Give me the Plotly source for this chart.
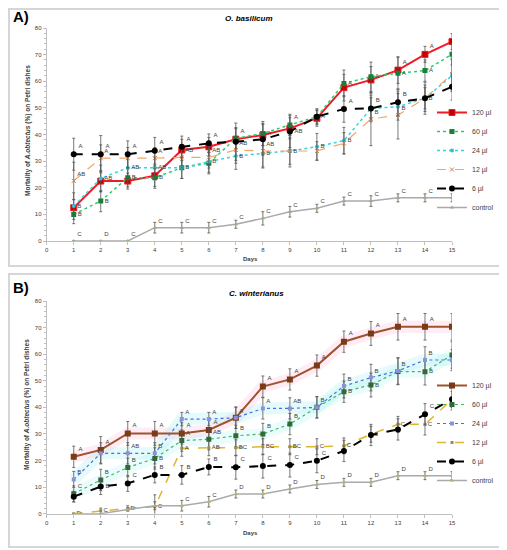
import plotly.graph_objects as go

# the page body keeps its default 8px margin, so the figure is drawn 8px smaller
OFF = 8
W, H = 507 - OFF, 550 - OFF

def fx(x):
    return (x - OFF) / W

def fy(y):
    return 1 - (y - OFF) / H

days = list(range(1, 16))
doses = ['120 µl', '60 µl', '24 µl', '12 µl', '6 µl', 'control']

# A) O. basilicum
a_120 = [12.5, 22.5, 22.5, 24.5, 34.2, 35.4, 38.2, 39.8, 42.3, 46.1, 57.6, 60.5, 64.2, 70.1, 74.9]
a_60 = [10.0, 15.0, 23.8, 23.8, 27.5, 29.2, 38.6, 40.4, 43.6, 46.7, 59.2, 61.7, 63.0, 64.0, 70.1]
a_24 = [13.1, 23.5, 27.5, 27.5, 27.5, 29.8, 31.9, 32.9, 33.8, 35.4, 37.7, 49.8, 50.4, 53.6, 62.1]
a_12 = [22.6, 31.1, 31.1, 31.1, 31.4, 31.4, 34.2, 33.8, 33.8, 33.8, 36.7, 45.8, 47.3, 53.6, 62.7]
a_6 = [32.6, 32.6, 32.6, 33.9, 35.4, 36.7, 37.3, 38.2, 41.1, 46.7, 49.6, 49.8, 52.1, 53.6, 57.9]
a_ctl = [0, 0, 0, 5.0, 5.0, 5.0, 6.3, 8.5, 11.0, 12.3, 15.0, 15.0, 16.2, 16.2, 16.2]

a_120_err = [3, 4, 3, 4, 4, 3.5, 4, 4, 4, 3, 5, 5, 5, 3, 3]
a_60_err = [3.5, 4, 3.5, 4, 4, 4, 4, 4.5, 4, 3, 5, 5.5, 6, 4, 4]
a_24_err = [5, 5, 4, 4, 4, 4, 5, 5.5, 5, 5, 5, 5, 5, 6, 6]
a_12_err = [7, 5, 4, 4, 4, 4, 5, 6, 6, 3.5, 4, 10, 9, 5, 6]
a_6_err = [6, 7, 5, 5, 4, 3.5, 7, 6, 6, 2.5, 5, 4, 5, 4, 5]
a_ctl_err = [0, 0, 0, 2, 2, 2, 1.5, 2.5, 2, 1.5, 1.5, 2, 1.5, 1.5, 1.5]

a_120_lbl = ['', '', '', '', '', '', 'A', '', '', '', '', '', 'A', 'A', 'A']
a_60_lbl = ['B', 'B', 'B', 'B', '', '', '', 'A', 'A', 'A', 'A', 'A', 'A', 'A', 'AB']
a_24_lbl = ['B', 'AB', 'AB', 'AB', 'B', 'B', 'B', 'B', 'B', 'B', 'B', '', '', 'B', 'B']
a_12_lbl = ['AB', 'A', '', 'A', 'AB', 'AB', 'AB', 'AB', '', '', '', 'B', 'B', '', '']
a_6_lbl = ['A', 'A', 'A', 'A', 'A', 'A', '', '', 'AB', '', 'A', 'B', 'B', '', 'B']
a_ctl_lbl = ['C', 'D', 'C', 'C', 'C', 'C', 'C', 'C', 'C', 'C', 'C', 'C', 'C', 'C', 'C']

# B) C. winterianus
b_120 = [21.4, 24.0, 30.2, 30.2, 30.2, 31.5, 36.1, 47.8, 50.5, 55.7, 64.7, 67.8, 70.3, 70.3, 70.3]
b_60 = [7.5, 12.7, 17.4, 20.8, 27.5, 28.0, 29.3, 30.0, 33.7, 40.0, 45.9, 48.4, 53.5, 53.4, 59.7]
b_24 = [12.9, 22.7, 22.7, 22.7, 35.6, 35.6, 36.1, 39.6, 39.6, 40.0, 48.0, 51.2, 53.7, 57.8, 57.8]
b_12 = [0, 1.1, 2.0, 2.6, 24.6, 24.8, 24.8, 25.2, 25.2, 25.2, 25.5, 29.9, 33.6, 33.6, 43.0]
b_6 = [6.4, 10.2, 11.4, 14.6, 14.6, 17.6, 17.5, 17.9, 18.3, 19.9, 23.6, 29.6, 31.7, 37.4, 43.0]
b_ctl = [0, 0, 1.6, 3.0, 3.0, 4.5, 7.4, 7.4, 9.3, 11.0, 11.8, 11.8, 14.3, 14.3, 14.3]

b_120_err = [4, 5, 4.5, 4.5, 4, 4, 4, 4, 4, 4, 4, 4.5, 5, 5, 5]
b_60_err = [3, 4, 3.5, 4, 4, 4, 4, 4, 4, 4, 4, 4.5, 5, 5, 5]
b_24_err = [3, 4, 4, 4, 2.5, 2.5, 4, 4, 4, 4, 4.5, 5, 5, 5, 4]
b_12_err = [0, 1, 1, 4.5, 3, 3, 3, 3, 3, 3, 3, 3, 3, 4, 4]
b_6_err = [2, 3, 3, 3, 3.5, 3, 4.5, 4.5, 4.5, 4.5, 4, 4, 4, 4, 3]
b_ctl_err = [0, 0, 0.5, 1.5, 2, 2, 1.5, 1.5, 1.5, 1.5, 1.5, 1.5, 1.5, 1.5, 1.5]

b_120_lbl = ['A', 'A', 'A', 'A', 'A', 'A', '', 'A', 'A', 'A', 'A', 'A', 'A', 'A', 'A']
b_60_lbl = ['C', 'B', 'B', 'B', 'A', 'AB', 'B', 'B', 'B', '', 'B', 'B', '', 'B', 'B']
b_24_lbl = ['B', '', 'AB', 'B', 'A', 'A', 'A', 'A', 'AB', 'B', 'B', 'B', 'B', 'B', '']
b_12_lbl = ['D', 'C', 'D', 'C', 'A', 'AB', 'BC', 'BC', 'BC', 'C', 'C', 'C', 'C', 'C', '']
b_6_lbl = ['', 'B', 'C', 'B', 'B', 'B', 'C', 'C', 'C', 'C', '', '', '', 'C', 'C']
b_ctl_lbl = ['', '', '', '', 'C', 'C', 'D', 'D', 'D', 'D', 'D', 'D', 'D', 'D', 'D']

style_a = [
    dict(line=dict(color='#ee1c25', width=2), marker=dict(symbol='square', size=6, color='#c00000', line=dict(color='#ee1c25', width=1)), tp='top right', moved={}),
    dict(line=dict(color='#2ecc71', width=1.5, dash='dot'), marker=dict(symbol='square', size=5, color='#17803a'), tp='middle right', moved={9: 'top right'}),
    dict(line=dict(color='#33d6e0', width=1.5, dash='dot'), marker=dict(symbol='circle', size=4, color='#33c0d0'), tp='middle right', moved={}),
    dict(line=dict(color='#f4a66a', width=1.2, dash='dash'), marker=dict(symbol='x-thin', size=4, color='#d08050', line=dict(color='#d08050', width=1)), tp='top right', moved={}),
    dict(line=dict(color='black', width=2, dash='dash'), marker=dict(symbol='circle', size=6, color='black'), tp='top right', moved={9: 'middle right', 15: 'middle right'}),
    dict(line=dict(color='#aaaaaa', width=1.5), marker=dict(symbol='triangle-up', size=4, color='#9aae88'), tp='top right', moved={}),
]
style_b = [
    dict(line=dict(color='#a0522d', width=2), marker=dict(symbol='square', size=6, color='#7a3a16'), tp='top right', moved={}),
    dict(line=dict(color='#45b36b', width=1.2, dash='dot'), marker=dict(symbol='square', size=5, color='#2e6b34'), tp='top right',
         moved={4: 'middle right', 10: 'middle right', 11: 'middle right', 12: 'middle right', 13: 'middle right', 14: 'middle right', 15: 'middle right'}),
    dict(line=dict(color='#4a6ee0', width=1.2, dash='dot'), marker=dict(symbol='square', size=4, color='#8c92d8'), tp='top right', moved={}),
    dict(line=dict(color='#dcb830', width=1.5, dash='dash'), marker=dict(symbol='square', size=3, color='#9a8a50'), tp='middle right', moved={}),
    dict(line=dict(color='black', width=2, dash='dash'), marker=dict(symbol='circle', size=6, color='black'), tp='top right', moved={2: 'middle right'}),
    dict(line=dict(color='#aaaaaa', width=1.5), marker=dict(symbol='triangle-up', size=4, color='#b8b07a'), tp='top right', moved={}),
]

panel_a = [(a_120, a_120_err, a_120_lbl), (a_60, a_60_err, a_60_lbl), (a_24, a_24_err, a_24_lbl),
           (a_12, a_12_err, a_12_lbl), (a_6, a_6_err, a_6_lbl), (a_ctl, a_ctl_err, a_ctl_lbl)]
panel_b = [(b_120, b_120_err, b_120_lbl), (b_60, b_60_err, b_60_lbl), (b_24, b_24_err, b_24_lbl),
           (b_12, b_12_err, b_12_lbl), (b_6, b_6_err, b_6_lbl), (b_ctl, b_ctl_err, b_ctl_lbl)]

fig = go.Figure()

# soft glow behind some lines of panel B
for vals, col in [(b_120, 'rgba(255,170,210,0.22)'), (b_24, 'rgba(160,240,240,0.28)'), (b_60, 'rgba(160,240,240,0.22)')]:
    fig.add_trace(go.Scatter(x=days, y=vals, mode='lines', line=dict(color=col, width=12),
                             hoverinfo='skip', showlegend=False, xaxis='x2', yaxis='y2'))

for panel, styles, leg, xa, ya in [(panel_a, style_a, 'legend', 'x', 'y'), (panel_b, style_b, 'legend2', 'x2', 'y2')]:
    for (vals, err, lbl), name, st in zip(panel, doses, styles):
        tpos = [st['moved'].get(d, st['tp']) for d in days]
        fig.add_trace(go.Scatter(x=days, y=vals, name=name, mode='lines+markers+text',
                                 text=lbl, textposition=tpos,
                                 textfont=dict(size=6, color='#404040'),
                                 error_y=dict(type='data', array=err, color='#555555', thickness=0.8, width=1.5),
                                 line=st['line'], marker=st['marker'], legend=leg,
                                 xaxis=xa, yaxis=ya))

xdom = [fx(46.7), fx(452)]
ax_common = dict(showgrid=False, zeroline=False, showline=True, linecolor='#bfbfbf', linewidth=1,
                 ticks='outside', ticklen=3, tickcolor='#bfbfbf',
                 tickfont=dict(size=6, color='#404040', family='Liberation Sans'))
minor = dict(ticks='outside', dtick=2, ticklen=2, tickcolor='#bfbfbf')

fig.update_layout(
    width=W, height=H,
    margin=dict(l=0, r=0, t=0, b=0, autoexpand=False),
    paper_bgcolor='white', plot_bgcolor='white',
    font=dict(family='Liberation Sans', color='#404040'),
    xaxis=dict(domain=xdom, range=[0, 15], dtick=1, anchor='y', **ax_common),
    yaxis=dict(domain=[fy(241), fy(28)], range=[0, 80], dtick=10, anchor='x', minor=minor, **ax_common),
    xaxis2=dict(domain=xdom, range=[0, 15], dtick=1, anchor='y2', **ax_common),
    yaxis2=dict(domain=[fy(513.7), fy(301)], range=[0, 80], dtick=10, anchor='x2', minor=minor, **ax_common),
    legend=dict(x=fx(432), y=fy(160), xanchor='left', yanchor='middle',
                bgcolor='rgba(0,0,0,0)', font=dict(size=7, color='#404040')),
    legend2=dict(x=fx(432), y=fy(433), xanchor='left', yanchor='middle',
                 bgcolor='rgba(0,0,0,0)', font=dict(size=7, color='#404040')),
)

# panel frames (left/top edges sit just inside the figure)
for top, bot in [(9, 266), (274, 547)]:
    fig.add_shape(type='rect', xref='paper', yref='paper', x0=fx(9), x1=fx(502), y0=fy(bot), y1=fy(top),
                  line=dict(color='#d6d6d6', width=2), layer='below')

ann = [
    dict(x=fx(11), y=fy(17), text='<b>A)</b>', font=dict(size=15, color='black'), xanchor='left'),
    dict(x=fx(11), y=fy(287), text='<b>B)</b>', font=dict(size=15, color='black'), xanchor='left'),
    dict(x=fx(249), y=fy(19), text='<b><i>O. basilicum</i></b>', font=dict(size=8, color='black')),
    dict(x=fx(256), y=fy(293), text='<b><i>C. winterianus</i></b>', font=dict(size=8, color='black')),
    dict(x=fx(250), y=fy(259), text='<b>Days</b>', font=dict(size=6, color='#404040')),
    dict(x=fx(250), y=fy(533), text='<b>Days</b>', font=dict(size=6, color='#404040')),
    dict(x=fx(22), y=fy(131), text='<b>Mortality of <i>A.obtectus</i> (%) on Petri dishes</b>',
         textangle=-90, font=dict(size=6.5, color='#404040')),
    dict(x=fx(21), y=fy(405), text='<b>Mortality of <i>A.obtectus</i> (%) on Petri dishes</b>',
         textangle=-90, font=dict(size=6.5, color='#404040')),
]
for a in ann:
    fig.add_annotation(xref='paper', yref='paper', showarrow=False, yanchor='middle', **a)

fig.write_html("out.html")
